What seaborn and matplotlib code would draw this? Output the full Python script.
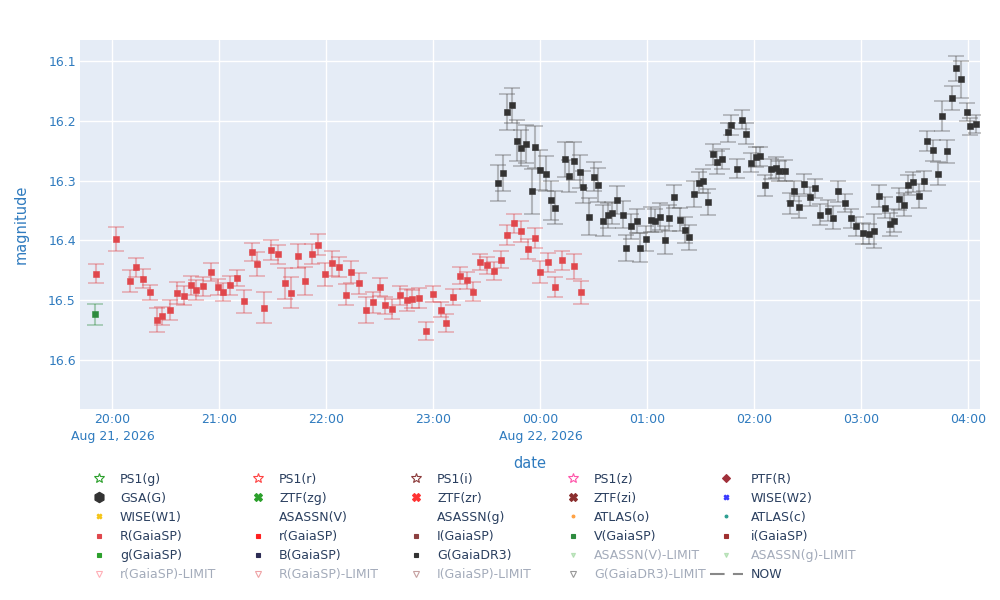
import matplotlib
matplotlib.use("Agg")
from matplotlib import pyplot as plt
from matplotlib.lines import Line2D
import pandas as pd
import seaborn as sns
import numpy as np

# R(GaiaSP) points: time (HH:MM, Aug 21 evening -> Aug 22 morning), magnitude, error
r_time = ["19:51", "20:02", "20:10", "20:13", "20:17", "20:21", "20:25", "20:28",
          "20:32", "20:36", "20:40", "20:44", "20:47", "20:51", "20:55", "20:59",
          "21:02", "21:06", "21:10", "21:14", "21:18", "21:21", "21:25", "21:29",
          "21:33", "21:37", "21:40", "21:44", "21:48", "21:52", "21:55", "21:59",
          "22:03", "22:07", "22:11", "22:14", "22:18", "22:22", "22:26", "22:30",
          "22:33", "22:37", "22:41", "22:45", "22:48", "22:52", "22:56", "23:00",
          "23:04", "23:07", "23:11", "23:15", "23:19", "23:22", "23:26", "23:30",
          "23:34", "23:38", "23:41", "23:45", "23:49", "23:53", "23:57", "00:00",
          "00:04", "00:08", "00:12", "00:19", "00:23"]
r_mag = [16.456, 16.398, 16.468, 16.445, 16.464, 16.487, 16.533, 16.527,
         16.517, 16.488, 16.493, 16.475, 16.483, 16.477, 16.453, 16.478,
         16.487, 16.475, 16.463, 16.502, 16.419, 16.439, 16.513, 16.416,
         16.423, 16.472, 16.488, 16.426, 16.468, 16.423, 16.407, 16.457,
         16.438, 16.445, 16.491, 16.453, 16.472, 16.517, 16.504, 16.478,
         16.509, 16.515, 16.492, 16.500, 16.498, 16.497, 16.552, 16.490,
         16.516, 16.538, 16.495, 16.459, 16.467, 16.486, 16.436, 16.442,
         16.452, 16.432, 16.391, 16.371, 16.385, 16.414, 16.396, 16.453,
         16.437, 16.478, 16.433, 16.443, 16.487]
r_err = [0.016, 0.020, 0.018, 0.016, 0.016, 0.013, 0.020, 0.015,
         0.017, 0.018, 0.016, 0.016, 0.016, 0.016, 0.015, 0.014,
         0.015, 0.016, 0.014, 0.019, 0.015, 0.020, 0.026, 0.017,
         0.016, 0.026, 0.026, 0.020, 0.023, 0.017, 0.018, 0.019,
         0.021, 0.017, 0.018, 0.018, 0.018, 0.022, 0.017, 0.015,
         0.015, 0.017, 0.016, 0.019, 0.015, 0.017, 0.015, 0.014,
         0.013, 0.015, 0.014, 0.014, 0.014, 0.016, 0.014, 0.014,
         0.015, 0.014, 0.016, 0.016, 0.018, 0.017, 0.016, 0.018,
         0.016, 0.017, 0.016, 0.021, 0.019]

# g(GaiaSP): single point
g_time = ["19:50"]
g_mag = [16.524]
g_err = [0.017]

# G(GaiaDR3) points
G_time = ["23:36", "23:39", "23:41", "23:44", "23:47", "23:49", "23:52", "23:55",
          "23:57", "00:00", "00:03", "00:06", "00:08", "00:14", "00:16", "00:19",
          "00:22", "00:24", "00:27", "00:30", "00:32", "00:35", "00:38", "00:40",
          "00:43", "00:46", "00:48", "00:51", "00:54", "00:56", "00:59", "01:02",
          "01:04", "01:07", "01:10", "01:12", "01:15", "01:18", "01:21", "01:23",
          "01:26", "01:29", "01:31", "01:34", "01:37", "01:39", "01:42", "01:45",
          "01:47", "01:50", "01:53", "01:55", "01:58", "02:01", "02:03", "02:06",
          "02:09", "02:12", "02:14", "02:17", "02:20", "02:22", "02:25", "02:28",
          "02:31", "02:34", "02:37", "02:41", "02:44", "02:47", "02:51", "02:54",
          "02:57", "03:01", "03:04", "03:07", "03:10", "03:13", "03:16", "03:18",
          "03:21", "03:24", "03:26", "03:29", "03:32", "03:35", "03:37", "03:40",
          "03:43", "03:45", "03:48", "03:51", "03:53", "03:56", "03:59", "04:01",
          "04:04"]
G_mag = [16.304, 16.287, 16.185, 16.174, 16.233, 16.245, 16.239, 16.318,
         16.243, 16.282, 16.288, 16.333, 16.345, 16.264, 16.292, 16.267,
         16.285, 16.311, 16.360, 16.293, 16.307, 16.367, 16.358, 16.354,
         16.332, 16.357, 16.413, 16.376, 16.367, 16.412, 16.397, 16.365,
         16.367, 16.360, 16.399, 16.362, 16.327, 16.365, 16.383, 16.395,
         16.322, 16.303, 16.300, 16.336, 16.256, 16.269, 16.264, 16.219,
         16.207, 16.280, 16.198, 16.221, 16.270, 16.260, 16.259, 16.308,
         16.280, 16.278, 16.284, 16.283, 16.338, 16.317, 16.344, 16.305,
         16.327, 16.313, 16.357, 16.350, 16.362, 16.318, 16.337, 16.363,
         16.376, 16.388, 16.389, 16.384, 16.326, 16.345, 16.373, 16.367,
         16.331, 16.340, 16.307, 16.302, 16.325, 16.300, 16.234, 16.249,
         16.288, 16.191, 16.251, 16.162, 16.112, 16.130, 16.185, 16.209,
         16.205]
G_err = [0.030, 0.030, 0.030, 0.029, 0.034, 0.030, 0.032, 0.038,
         0.035, 0.034, 0.029, 0.033, 0.027, 0.029, 0.027, 0.032,
         0.028, 0.027, 0.031, 0.025, 0.028, 0.026, 0.021, 0.019,
         0.023, 0.023, 0.022, 0.021, 0.020, 0.024, 0.021, 0.021,
         0.019, 0.022, 0.023, 0.022, 0.019, 0.019, 0.022, 0.021,
         0.022, 0.018, 0.020, 0.022, 0.017, 0.019, 0.017, 0.016,
         0.017, 0.016, 0.016, 0.018, 0.016, 0.017, 0.016, 0.017,
         0.017, 0.018, 0.017, 0.018, 0.017, 0.017, 0.018, 0.017,
         0.016, 0.016, 0.018, 0.018, 0.019, 0.017, 0.015, 0.016,
         0.016, 0.018, 0.017, 0.029, 0.018, 0.018, 0.019, 0.019,
         0.018, 0.019, 0.017, 0.017, 0.020, 0.017, 0.017, 0.018,
         0.020, 0.025, 0.019, 0.020, 0.021, 0.031, 0.015, 0.014,
         0.015]

hour_ticks = ["20:00", "21:00", "22:00", "23:00", "00:00", "01:00", "02:00", "03:00", "04:00"]
mag_ticks = [16.1, 16.2, 16.3, 16.4, 16.5, 16.6]

# legend entries, in the row order of the reference
legend_labels = [
    "PS1(g)", "PS1(r)", "PS1(i)", "PS1(z)", "PTF(R)",
    "GSA(G)", "ZTF(zg)", "ZTF(zr)", "ZTF(zi)", "WISE(W2)",
    "WISE(W1)", "ASASSN(V)", "ASASSN(g)", "ATLAS(o)", "ATLAS(c)",
    "R(GaiaSP)", "r(GaiaSP)", "I(GaiaSP)", "V(GaiaSP)", "i(GaiaSP)",
    "g(GaiaSP)", "B(GaiaSP)", "G(GaiaDR3)", "ASASSN(V)-LIMIT", "ASASSN(g)-LIMIT",
    "r(GaiaSP)-LIMIT", "R(GaiaSP)-LIMIT", "I(GaiaSP)-LIMIT", "G(GaiaDR3)-LIMIT", "NOW",
]


def to_dt(times):
    out = []
    for t in times:
        day = "2026-08-22" if int(t[:2]) < 12 else "2026-08-21"
        out.append(pd.Timestamp(f"{day} {t}"))
    return out


red_df = pd.DataFrame({"date": to_dt(r_time), "mag": r_mag, "err": r_err})
green_df = pd.DataFrame({"date": to_dt(g_time), "mag": g_mag, "err": g_err})
black_df = pd.DataFrame({"date": to_dt(G_time), "mag": G_mag, "err": G_err})

sns.set_theme(style="darkgrid", rc={
    "axes.facecolor": "#E5ECF6",
    "grid.color": "white",
    "grid.linewidth": 1.0,
    "axes.edgecolor": "#E5ECF6",
})
plt.rcParams["font.family"] = ["DejaVu Sans"]

TICK_BLUE = "#2f7bbf"
LEG_TEXT = "#2a3f5f"
FADED = "#a3abba"

fig = plt.figure(figsize=(10, 6), dpi=100)
ax = fig.add_axes([0.08, 1 - 409 / 600, 0.9, 369 / 600])

series = [
    (green_df, "#2e8b3e", "#2e8b3e"),
    (red_df, "#e0474c", "#e0474c"),
    (black_df, "#333333", "#555555"),
]
for df, col, ecol in series:
    ax.errorbar(df["date"], df["mag"], yerr=df["err"], fmt="none",
                ecolor=ecol, elinewidth=1.5, capsize=5.5, capthick=1.3,
                alpha=0.36, zorder=2)
    sns.scatterplot(data=df, x="date", y="mag", ax=ax, marker="s", s=15,
                    color=col, edgecolor=col, linewidth=0.4, zorder=3,
                    legend=False)

ax.set_xlim(pd.Timestamp("2026-08-21 19:41:48"), pd.Timestamp("2026-08-22 04:06:27"))
ax.set_ylim(16.6824, 16.0643)

tick_dates = to_dt(hour_ticks)
tick_text = []
for t, d in zip(hour_ticks, tick_dates):
    if t == "20:00" or t == "00:00":
        tick_text.append(t + "\n" + d.strftime("%b ") + str(d.day) + d.strftime(", %Y"))
    else:
        tick_text.append(t)
ax.set_xticks(tick_dates)
ax.set_xticklabels(tick_text, linespacing=1.35)
ax.set_yticks(mag_ticks)
ax.set_yticklabels([f"{m:.1f}" for m in mag_ticks])
ax.tick_params(axis="both", length=0, labelsize=9, colors=TICK_BLUE)
ax.tick_params(axis="x", pad=3)
ax.tick_params(axis="y", pad=3)
ax.grid(True, color="white", linewidth=1.0)
for s in ax.spines.values():
    s.set_visible(False)

ax.set_xlabel("date", fontsize=10.5, color=TICK_BLUE)
ax.set_ylabel("magnitude", fontsize=10.5, color=TICK_BLUE)
ax.xaxis.set_label_coords(0.5, -0.128)
ax.yaxis.set_label_coords(-0.0567, 0.5)

# legend handle styles: (marker, color, size, open, faded)
legend_style = {
    "PS1(g)": ("*", "#2ca02c", 7, True, False),
    "PS1(r)": ("*", "#ff4444", 7, True, False),
    "PS1(i)": ("*", "#8c3b3b", 7, True, False),
    "PS1(z)": ("*", "#ff55aa", 7, True, False),
    "PTF(R)": ("D", "#a0303a", 4.5, False, False),
    "GSA(G)": ("h", "#333333", 7.5, False, False),
    "ZTF(zg)": ("X", "#2ca02c", 6, False, False),
    "ZTF(zr)": ("X", "#ff3333", 6, False, False),
    "ZTF(zi)": ("X", "#8b2f2f", 6, False, False),
    "WISE(W2)": ("X", "#3a3aff", 3.5, False, False),
    "WISE(W1)": ("X", "#f5c518", 3.5, False, False),
    "ASASSN(V)": ("o", "#ffffff", 0, False, False),
    "ASASSN(g)": ("o", "#ffffff", 0, False, False),
    "ATLAS(o)": ("o", "#ffa040", 2, False, False),
    "ATLAS(c)": ("o", "#2a9d8f", 2, False, False),
    "R(GaiaSP)": ("s", "#e0474c", 3.3, False, False),
    "r(GaiaSP)": ("s", "#ff2020", 3.3, False, False),
    "I(GaiaSP)": ("s", "#8c4040", 3.3, False, False),
    "V(GaiaSP)": ("s", "#2e8b3e", 3.3, False, False),
    "i(GaiaSP)": ("s", "#a03030", 3.3, False, False),
    "g(GaiaSP)": ("s", "#2ca02c", 3.3, False, False),
    "B(GaiaSP)": ("s", "#2c2c54", 3.3, False, False),
    "G(GaiaDR3)": ("s", "#333333", 3.3, False, False),
    "ASASSN(V)-LIMIT": ("v", "#8fd18f", 3, False, True),
    "ASASSN(g)-LIMIT": ("v", "#8fd18f", 3, False, True),
    "r(GaiaSP)-LIMIT": ("v", "#ff6070", 4.5, True, True),
    "R(GaiaSP)-LIMIT": ("v", "#e0474c", 4.5, True, True),
    "I(GaiaSP)-LIMIT": ("v", "#8c4040", 4.5, True, True),
    "G(GaiaDR3)-LIMIT": ("v", "#333333", 4.5, True, True),
}


def make_handle(label):
    if label == "NOW":
        return Line2D([], [], color="#888888", linewidth=1.5, linestyle=(0, (7, 4)))
    m, c, size, hollow, faded = legend_style[label]
    return Line2D([], [], linestyle="none", marker=m, markersize=size,
                  markerfacecolor="none" if hollow else c, markeredgecolor=c,
                  markeredgewidth=0.8, alpha=0.5 if faded else 1.0)


marker_x = [99, 258, 416, 573, 730]
for c in range(5):
    labels = [legend_labels[r * 5 + c] for r in range(6)]
    handles = [make_handle(lb) for lb in labels]
    hl = 2.6 if c == 4 else 1.6
    hl_px = hl * 12.5
    pad = ((751 - 710) - hl_px) / 12.5 if c == 4 else (21 - hl_px / 2) / 12.5
    x0 = (710 if c == 4 else marker_x[c] - hl_px / 2) / 1000
    leg = fig.legend(handles, labels, loc="upper left",
                     bbox_to_anchor=(x0, 1 - 472.5 / 600), frameon=False,
                     fontsize=9, handlelength=hl, handletextpad=pad,
                     labelspacing=0.49, borderpad=0, borderaxespad=0)
    for txt, lb in zip(leg.get_texts(), labels):
        txt.set_color(FADED if lb.endswith("-LIMIT") else LEG_TEXT)

fig.savefig("out.png", dpi=100, facecolor="white")
